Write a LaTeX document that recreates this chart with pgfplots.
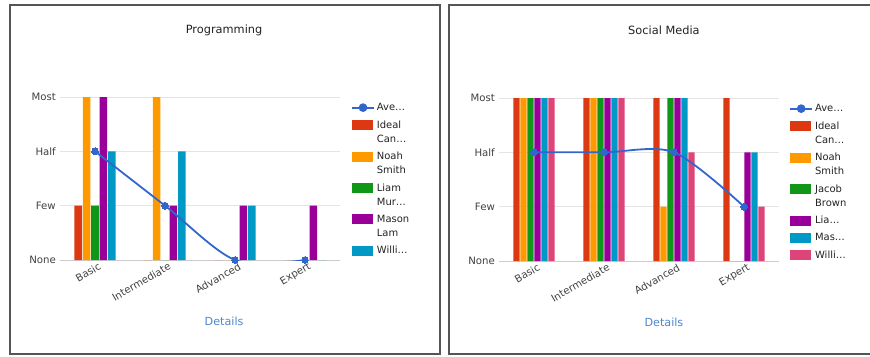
\documentclass[border=0pt]{standalone}
\usepackage{fontspec}
\setmainfont{DejaVu Sans}
\usepackage{pgfplots}
\usepackage{pgfplotstable}
\pgfplotsset{compat=1.18}

\definecolor{cRed}{HTML}{DC3912}
\definecolor{cOrange}{HTML}{FF9900}
\definecolor{cGreen}{HTML}{109618}
\definecolor{cPurple}{HTML}{990099}
\definecolor{cTeal}{HTML}{0099C6}
\definecolor{cPink}{HTML}{DD4477}
\definecolor{cLine}{HTML}{3366CC}
\definecolor{cLabel}{HTML}{4F87C9}
\definecolor{cGrid}{HTML}{E4E4E4}
\definecolor{cBase}{HTML}{CCCCCC}
\definecolor{cTick}{HTML}{404040}
\definecolor{cTitle}{HTML}{222222}
\definecolor{cFrame}{HTML}{555555}

% Skill levels: 0 = None, 1 = Few, 2 = Half, 3 = Most
\pgfplotstableread{
x ideal noah liam mason willi avg
0 1 3 1 3 2 2
1 0 3 0 1 2 1
2 0 0 0 1 1 0
3 0 0 0 1 0 0
}\programming

\pgfplotstableread{
x ideal noah jacob lia mas willi avg
0 3 3 3 3 3 3 2
1 3 3 3 3 3 3 2
2 3 1 3 3 3 2 2
3 3 0 0 2 2 1 1
}\socialmedia

\pgfplotsset{
  panel/.style={
    scale only axis, width=280bp, height=163bp,
    xmin=-0.5, xmax=3.5, ymin=0, ymax=3,
    xtick={0,1,2,3}, xticklabels={Basic,Intermediate,Advanced,Expert},
    ytick={1,2,3}, yticklabels={Few,Half,Most},
    extra y ticks={0}, extra y tick labels={None},
    extra y tick style={grid style={draw=cBase, line width=0.9bp}},
    axis line style={draw=none}, major tick length=0pt,
    ymajorgrids, grid style={draw=cGrid, line width=0.9bp},
    tick label style={font=\fontsize{10.2}{12}\selectfont, text=cTick},
    xticklabel style={rotate=30, anchor=north east, inner sep=0pt, xshift=1.5bp, yshift=-3bp},
    yticklabel style={inner sep=0pt, xshift=-4bp},
    title style={anchor=base, yshift=0pt, font=\fontsize{11.4}{13}\selectfont, text=cTitle},
    xlabel style={anchor=base, font=\fontsize{11.2}{13}\selectfont, text=cLabel},
    clip mode=individual,
    legend style={draw=none, fill=none, inner sep=0pt, anchor=north west,
      font=\fontsize{10}{14}\selectfont, text=cTitle, row sep=4.5bp,
      cells={anchor=west, align=left}},
  },
  % legend swatch for a one-line entry
  swatch/.style={legend image code/.code={\fill[##1] (0bp,-5bp) rectangle (21bp,5bp);}},
  % legend swatch set beside the first line of a two-line entry
  swatchtwo/.style={legend image code/.code={\fill[##1] (0bp,2bp) rectangle (21bp,12bp);
      \path (0bp,-12bp);}},
  avgline/.style={draw=cLine, line width=1.8bp, smooth, tension=0.5,
    mark=*, mark size=3.4bp, mark options={fill=cLine, draw=cLine, line width=0pt},
    legend image code/.code={\draw[cLine, line width=1.8bp] (0bp,0bp) -- (22bp,0bp);
      \fill[cLine] (11bp,0bp) circle (3.4bp);}},
  barsL/.style={ybar, bar width=7.6bp, bar shift=#1, draw=none, swatch},
  barsR/.style={ybar, bar width=6.3bp, bar shift=#1, draw=none, swatch},
}

\begin{document}
\begin{tikzpicture}[x=1bp, y=1bp]
\useasboundingbox (0,0) rectangle (870,356);
\begin{scope}
\clip (0,0) rectangle (870,356);
\draw[cFrame, line width=2bp] (9.5,2) rectangle (440,351);
\draw[cFrame, line width=2bp] (448.5,2) rectangle (880,351);
\end{scope}

% Programming
\begin{axis}[panel, at={(60bp,96bp)}, anchor=south west,
  title={Programming}, title style={at={(axis description cs:0.586,1.35)}},
  xlabel={Details}, xlabel style={at={(axis description cs:0.586,-0.399)}},
  legend style={at={(axis description cs:1.039,0.975)}}]
  \addlegendimage{avgline}
  \addlegendentry{Ave…}
  \addplot[barsL=-16.8bp, fill=cRed, swatchtwo] table[x=x, y=ideal] {\programming};
  \addlegendentry{Ideal\\Can…}
  \addplot[barsL=-8.4bp, fill=cOrange, swatchtwo] table[x=x, y=noah] {\programming};
  \addlegendentry{Noah\\Smith}
  \addplot[barsL=0bp, fill=cGreen, swatchtwo] table[x=x, y=liam] {\programming};
  \addlegendentry{Liam\\Mur…}
  \addplot[barsL=8.4bp, fill=cPurple, swatchtwo] table[x=x, y=mason] {\programming};
  \addlegendentry{Mason\\Lam}
  \addplot[barsL=16.8bp, fill=cTeal] table[x=x, y=willi] {\programming};
  \addlegendentry{Willi…}
  \addplot[avgline, forget plot] table[x=x, y=avg] {\programming};
\end{axis}

% Social Media
\begin{axis}[panel, at={(499bp,95bp)}, anchor=south west,
  title={Social Media}, title style={at={(axis description cs:0.589,1.35)}},
  xlabel={Details}, xlabel style={at={(axis description cs:0.589,-0.399)}},
  legend style={at={(axis description cs:1.036,0.975)}}]
  \addlegendimage{avgline}
  \addlegendentry{Ave…}
  \addplot[barsR=-17.5bp, fill=cRed, swatchtwo] table[x=x, y=ideal] {\socialmedia};
  \addlegendentry{Ideal\\Can…}
  \addplot[barsR=-10.5bp, fill=cOrange, swatchtwo] table[x=x, y=noah] {\socialmedia};
  \addlegendentry{Noah\\Smith}
  \addplot[barsR=-3.5bp, fill=cGreen, swatchtwo] table[x=x, y=jacob] {\socialmedia};
  \addlegendentry{Jacob\\Brown}
  \addplot[barsR=3.5bp, fill=cPurple] table[x=x, y=lia] {\socialmedia};
  \addlegendentry{Lia…}
  \addplot[barsR=10.5bp, fill=cTeal] table[x=x, y=mas] {\socialmedia};
  \addlegendentry{Mas…}
  \addplot[barsR=17.5bp, fill=cPink] table[x=x, y=willi] {\socialmedia};
  \addlegendentry{Willi…}
  \addplot[avgline, forget plot] table[x=x, y=avg] {\socialmedia};
\end{axis}
\end{tikzpicture}
\end{document}
